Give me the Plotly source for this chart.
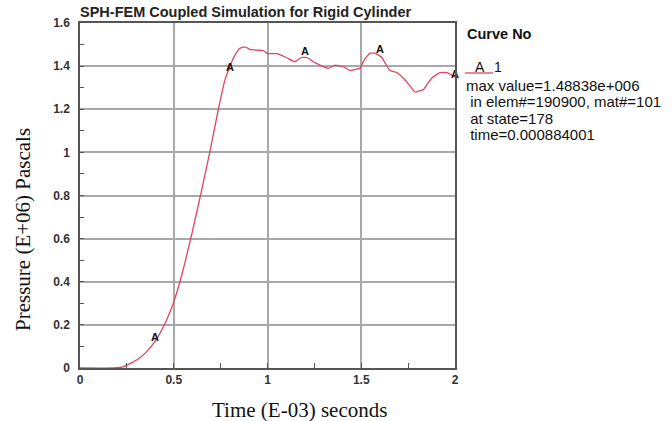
import plotly.graph_objects as go

# ---- data ----
time_ms = [0, 0.18, 0.231, 0.302, 0.356, 0.409, 0.444, 0.48, 0.503, 0.533, 0.56,
           0.596, 0.645, 0.692, 0.738, 0.773, 0.8, 0.827, 0.853, 0.88,
           0.907, 0.942, 0.977, 1.0, 1.05, 1.10, 1.147, 1.18, 1.21,
           1.245, 1.28, 1.325, 1.36, 1.387, 1.41, 1.44, 1.47, 1.493, 1.51, 1.53,
           1.547, 1.573, 1.61, 1.63, 1.653, 1.69, 1.74, 1.787, 1.81, 1.83, 1.855,
           1.877, 1.92, 1.957, 2.0]
pressure_mpa = [0, 0, 0.005, 0.037, 0.076, 0.135, 0.19, 0.26, 0.314, 0.40, 0.49,
                0.62, 0.81, 1.0, 1.2, 1.336, 1.40, 1.452, 1.483, 1.489,
                1.478, 1.474, 1.472, 1.458, 1.458, 1.44, 1.42, 1.44, 1.44,
                1.42, 1.405, 1.39, 1.405, 1.40, 1.395, 1.38, 1.385, 1.39, 1.42, 1.445,
                1.46, 1.46, 1.44, 1.41, 1.38, 1.37, 1.33, 1.28, 1.285, 1.29, 1.32,
                1.345, 1.37, 1.37, 1.35]

label_time = [0.4, 0.8, 1.2, 1.6, 2.0]
label_pressure = [0.14, 1.39, 1.465, 1.475, 1.36]
label_text = ["A", "A", "A", "A", "A"]

x_ticks = [0, 0.5, 1, 1.5, 2]
x_tick_labels = ["0", "0.5", "1", "1.5", "2"]
y_ticks = [0, 0.2, 0.4, 0.6, 0.8, 1.0, 1.2, 1.4, 1.6]
y_tick_labels = ["0", "0.2", "0.4", "0.6", "0.8", "1", "1.2", "1.4", "1.6"]

info_lines = ["max value=1.48838e+006",
              "\u00a0in elem#=190900, mat#=101",
              "\u00a0at state=178",
              "\u00a0time=0.000884001"]

RED = "#e0455f"
W, H = 672, 421
L, R, T, B = 80, 455, 23, 368  # plot area in pixels

def px(xp):
    return (xp - L) / (R - L)

def py(yp):
    return (B - yp) / (B - T)

fig = go.Figure()
fig.add_trace(go.Scatter(x=time_ms, y=pressure_mpa, mode="lines",
                         line=dict(color=RED, width=1.3, shape="spline", smoothing=0.4),
                         showlegend=False, hoverinfo="skip"))
fig.add_trace(go.Scatter(x=label_time, y=label_pressure, mode="text",
                         text=label_text, textposition="middle center",
                         textfont=dict(family="Liberation Sans, Arial", size=11,
                                       color="#111", weight="bold"),
                         showlegend=False, cliponaxis=False))

axis_common = dict(showline=True, linecolor="#555", linewidth=1.5, mirror=True,
                   showgrid=True, gridcolor="#a8a8a8", gridwidth=1.5,
                   zeroline=False, ticks="inside", ticklen=4, tickcolor="#555",
                   tickfont=dict(family="Liberation Sans, Arial", size=12,
                                 color="#333", weight="bold"))

fig.update_xaxes(range=[0, 2], tickvals=x_ticks, ticktext=x_tick_labels,
                 minor=dict(ticks="inside", dtick=0.25, tick0=0, ticklen=5,
                            tickcolor="#555", showgrid=False),
                 **axis_common)
fig.update_yaxes(range=[0, 1.6], tickvals=y_ticks, ticktext=y_tick_labels,
                 minor=dict(ticks="inside", dtick=0.1, tick0=0, ticklen=4,
                            tickcolor="#555", showgrid=False),
                 ticklabelstandoff=6,
                 **axis_common)

serif = "Liberation Serif, Times New Roman"
sans = "Liberation Sans, Arial"
ann = []
ann.append(dict(text="Pressure (E+06) Pascals", x=px(23), y=py(230),
                xref="paper", yref="paper", showarrow=False, textangle=-90,
                xanchor="center", yanchor="middle",
                font=dict(family=serif, size=21, color="#111")))
ann.append(dict(text="Time (E-03) seconds", x=px(299), y=py(410),
                xref="paper", yref="paper", showarrow=False,
                xanchor="center", yanchor="middle",
                font=dict(family=serif, size=21, color="#111")))
ann.append(dict(text="Curve No", x=px(465), y=py(34), xref="paper", yref="paper",
                showarrow=False, xanchor="left", yanchor="middle",
                font=dict(family=sans, size=14.5, color="#111", weight="bold")))
ann.append(dict(text="A", x=px(480), y=py(67), xref="paper", yref="paper",
                showarrow=False, xanchor="center", yanchor="middle",
                font=dict(family=sans, size=14, color="#111")))
ann.append(dict(text="1", x=px(498), y=py(67), xref="paper", yref="paper",
                showarrow=False, xanchor="center", yanchor="middle",
                font=dict(family=sans, size=14, color="#111")))
for i, line in enumerate(info_lines):
    ann.append(dict(text=line, x=px(464), y=py(85 + 16.5 * i), xref="paper", yref="paper",
                    showarrow=False, xanchor="left", yanchor="middle",
                    font=dict(family=sans, size=15, color="#111")))

fig.update_layout(
    width=W, height=H,
    margin=dict(l=L, r=W - R, t=T, b=H - B, pad=0),
    paper_bgcolor="white", plot_bgcolor="white",
    title=dict(text="<b>SPH-FEM Coupled Simulation for Rigid Cylinder</b>",
               x=0, xref="paper", xanchor="left", y=1 - 12 / H, yanchor="middle",
               font=dict(family=sans, size=14.5, color="#222")),
    annotations=ann,
    shapes=[dict(type="line", xref="paper", yref="paper",
                 x0=px(465), x1=px(493), y0=py(73), y1=py(73),
                 line=dict(color=RED, width=1.3))],
)

fig.write_html("out.html", config={"displayModeBar": False},
               post_script="document.body.style.margin='0';document.body.style.overflow='hidden';")
